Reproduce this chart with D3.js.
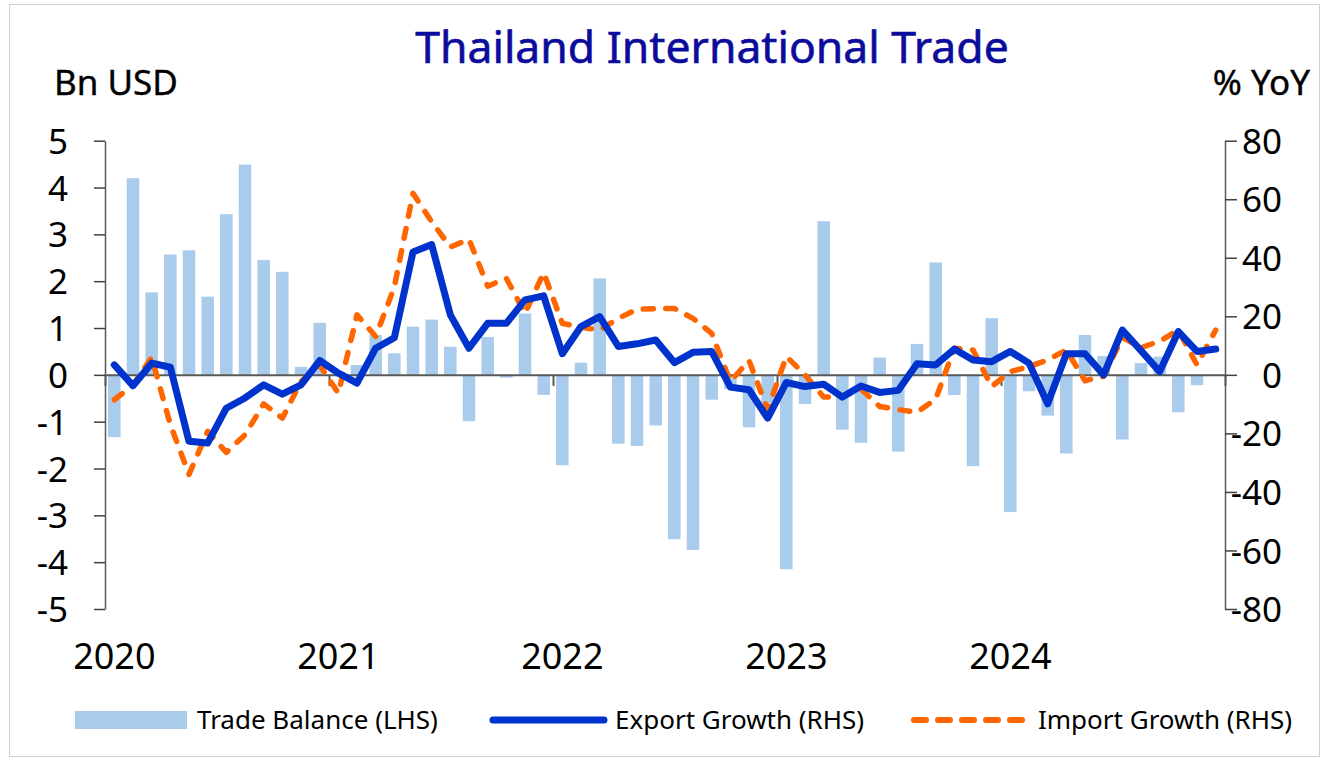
<!DOCTYPE html>
<meta charset="utf-8">

<!-- Load d3.js -->
<script src="https://d3js.org/d3.v7.min.js"></script>

<style>
  body { margin: 0; background: #fff; }
  text { font-family: "Noto Sans", sans-serif; }
</style>

<!-- Create a div where the graph will take place -->
<div id="tradeChart"></div>

<script>

// months, Jan 2020 .. Dec 2024
var months = [
  "2020-01","2020-02","2020-03","2020-04","2020-05","2020-06","2020-07","2020-08","2020-09","2020-10","2020-11","2020-12",
  "2021-01","2021-02","2021-03","2021-04","2021-05","2021-06","2021-07","2021-08","2021-09","2021-10","2021-11","2021-12",
  "2022-01","2022-02","2022-03","2022-04","2022-05","2022-06","2022-07","2022-08","2022-09","2022-10","2022-11","2022-12",
  "2023-01","2023-02","2023-03","2023-04","2023-05","2023-06","2023-07","2023-08","2023-09","2023-10","2023-11","2023-12",
  "2024-01","2024-02","2024-03","2024-04","2024-05","2024-06","2024-07","2024-08","2024-09","2024-10","2024-11","2024-12"
];

// trade balance, bn USD (LHS)
var tradeBalance = [
  -1.33, 4.20, 1.76, 2.57, 2.66, 1.67, 3.43, 4.49, 2.45, 2.20, 0.17, 1.11,
  0.00, 0.21, 0.85, 0.46, 1.03, 1.18, 0.60, -0.99, 0.81, -0.06, 1.31, -0.43,
  -1.93, 0.26, 2.06, -1.47, -1.52, -1.08, -3.51, -3.74, -0.53, -0.30, -1.12, -0.60,
  -4.15, -0.62, 3.28, -1.17, -1.45, 0.37, -1.64, 0.66, 2.40, -0.43, -1.95, 1.21,
  -2.93, -0.35, -0.87, -1.68, 0.85, 0.40, -1.38, 0.25, 0.39, -0.80, -0.22, null
];

// export growth, % YoY (RHS)
var exportGrowth = [
  3.4, -3.7, 4.0, 2.6, -22.7, -23.3, -11.4, -7.9, -3.4, -6.6, -3.4, 4.9,
  0.6, -2.8, 9.1, 12.7, 42.0, 44.5, 20.5, 9.1, 17.6, 17.6, 25.6, 27.0,
  7.2, 16.5, 19.9, 9.7, 10.6, 11.9, 4.2, 7.7, 8.0, -4.2, -5.1, -14.8,
  -2.6, -4.0, -3.2, -7.6, -3.8, -6.0, -5.3, 3.8, 3.4, 8.8, 5.1, 4.5,
  8.0, 4.0, -9.9, 7.2, 7.2, 0.0, 15.3, 8.3, 1.1, 14.8, 8.0, 8.8
];

// import growth, % YoY (RHS)
var importGrowth = [
  -8.5, -3.5, 6.0, -17.0, -34.0, -19.3, -26.5, -20.5, -9.9, -14.8, -2.3, 3.4,
  -6.3, 20.5, 13.1, 30.0, 62.0, 52.3, 43.7, 46.3, 30.3, 33.0, 21.0, 34.9,
  17.6, 16.3, 15.3, 19.3, 22.4, 22.6, 22.7, 19.3, 14.2, -2.3, 4.9, -11.9,
  6.3, 0.0, -7.6, -7.4, -4.9, -10.8, -11.9, -12.8, -8.3, 9.1, 8.5, -4.0,
  1.1, 2.8, 5.1, 8.5, -2.0, -0.5, 12.8, 9.3, 11.5, 15.3, 3.4, 15.3
];

var leftTicks = [-5, -4, -3, -2, -1, 0, 1, 2, 3, 4, 5];
var rightTicks = [-80, -60, -40, -20, 0, 20, 40, 60, 80];
var yearLabels = ["2020", "2021", "2022", "2023", "2024"];
var legendLabels = ["Trade Balance (LHS)", "Export Growth (RHS)", "Import Growth (RHS)"];

// set the dimensions of the graph
var width = 1325, height = 762;
var plot = {left: 105, right: 1225, top: 140.7, bottom: 609};

var svg = d3.select("#tradeChart")
  .append("svg")
    .attr("width", width)
    .attr("height", height);

// outer frame
svg.append("rect")
  .attr("x", 9.5).attr("y", 4.5)
  .attr("width", 1310).attr("height", 752)
  .attr("fill", "none")
  .attr("stroke", "#d0d0d0");

// scales
var x = d3.scaleBand()
  .domain(months)
  .range([plot.left, plot.right])
  .paddingInner(0.33)
  .paddingOuter(0.165);

var xPos = d3.scaleLinear()
  .domain([0, months.length])
  .range([plot.left, plot.right]);

var yL = d3.scaleLinear().domain([-5, 5]).range([plot.bottom, plot.top]);
var yR = d3.scaleLinear().domain([-80, 80]).range([plot.bottom, plot.top]);

var cx = function(i) { return x(months[i]) + x.bandwidth() / 2; };
var plain = function(d) { return String(d); };  // keep ascii hyphen for negatives

// bars
svg.append("g")
  .selectAll("rect")
  .data(tradeBalance.map(function(v, i) { return {m: months[i], v: v}; })
    .filter(function(d) { return d.v !== null; }))
  .enter()
  .append("rect")
    .attr("x", function(d) { return x(d.m); })
    .attr("width", x.bandwidth())
    .attr("y", function(d) { return yL(Math.max(0, d.v)); })
    .attr("height", function(d) { return Math.abs(yL(d.v) - yL(0)); })
    .attr("fill", "#a9cbec");

// zero line with year ticks
var xAxis = svg.append("g")
  .attr("transform", "translate(0," + yL(0) + ")")
  .call(d3.axisBottom(xPos).tickValues([0, 12, 24, 36, 48, 60]).tickSize(11).tickSizeOuter(0).tickFormat(""));
xAxis.select(".domain").attr("stroke", "#595959").attr("stroke-width", 2);
xAxis.selectAll(".tick line").attr("stroke", "#595959").attr("stroke-width", 2);

// left axis
var axL = svg.append("g")
  .attr("transform", "translate(" + plot.left + ",0)")
  .call(d3.axisLeft(yL).tickValues(leftTicks).tickFormat(plain).tickSize(11).tickSizeOuter(0).tickPadding(26));
axL.select(".domain").attr("stroke", "#595959").attr("stroke-width", 1.5);
axL.selectAll(".tick line").attr("stroke", "#404040").attr("stroke-width", 1.5);
axL.selectAll("text").style("font-size", "35px").attr("fill", "#000").attr("dy", "0.36em");

// right axis
var axR = svg.append("g")
  .attr("transform", "translate(" + plot.right + ",0)")
  .call(d3.axisRight(yR).tickValues(rightTicks).tickFormat(plain).tickSize(12).tickSizeOuter(0));
axR.select(".domain").attr("stroke", "#595959").attr("stroke-width", 1.5);
axR.selectAll(".tick line").attr("stroke", "#404040").attr("stroke-width", 1.5);
axR.selectAll("text")
  .style("font-size", "35px").attr("fill", "#000")
  .attr("text-anchor", "end").attr("x", 57).attr("dy", "0.36em");

// year labels
svg.append("g")
  .selectAll("text")
  .data(yearLabels)
  .enter()
  .append("text")
    .attr("x", function(d, i) { return cx(i * 12); })
    .attr("y", 669)
    .attr("text-anchor", "middle")
    .style("font-size", "36px")
    .text(function(d) { return d; });

// lines
var lineR = function(vals) {
  return d3.line()
    .x(function(d, i) { return cx(i); })
    .y(function(d) { return yR(d); })(vals);
};

svg.append("path")
  .attr("d", lineR(importGrowth))
  .attr("fill", "none")
  .attr("stroke", "#ff6600")
  .attr("stroke-width", 5.5)
  .attr("stroke-linecap", "round")
  .attr("stroke-linejoin", "round")
  .attr("stroke-dasharray", "10,12.5");

svg.append("path")
  .attr("d", lineR(exportGrowth))
  .attr("fill", "none")
  .attr("stroke", "#0033cc")
  .attr("stroke-width", 7)
  .attr("stroke-linecap", "round")
  .attr("stroke-linejoin", "round");

// titles
svg.append("text")
  .attr("x", 712).attr("y", 63)
  .attr("text-anchor", "middle")
  .attr("fill", "#0c0c9c")
  .style("font-size", "44.5px")
  .style("stroke", "#0c0c9c").style("stroke-width", 0.6)
  .text("Thailand International Trade");

svg.append("text")
  .attr("x", 54).attr("y", 95)
  .style("font-size", "35px")
  .style("stroke", "#000").style("stroke-width", 0.4)
  .text("Bn USD");

svg.append("text")
  .attr("x", 1310).attr("y", 95)
  .attr("text-anchor", "end")
  .style("font-size", "35px")
  .style("stroke", "#000").style("stroke-width", 0.4)
  .text("% YoY");

// legend
var legend = svg.append("g").style("font-size", "26px");

legend.append("rect")
  .attr("x", 75).attr("y", 711).attr("width", 112).attr("height", 18)
  .attr("fill", "#a9cbec");
legend.append("line")
  .attr("x1", 493).attr("x2", 604).attr("y1", 720).attr("y2", 720)
  .attr("stroke", "#0033cc").attr("stroke-width", 7).attr("stroke-linecap", "round");
legend.append("line")
  .attr("x1", 914).attr("x2", 1030).attr("y1", 720).attr("y2", 720)
  .attr("stroke", "#ff6600").attr("stroke-width", 6).attr("stroke-linecap", "round")
  .attr("stroke-dasharray", "12,12");

legend.selectAll("text.lab")
  .data(legendLabels)
  .enter()
  .append("text")
    .attr("class", "lab")
    .attr("x", function(d, i) { return [197, 615, 1038][i]; })
    .attr("y", 729)
    .text(function(d) { return d; });

</script>
